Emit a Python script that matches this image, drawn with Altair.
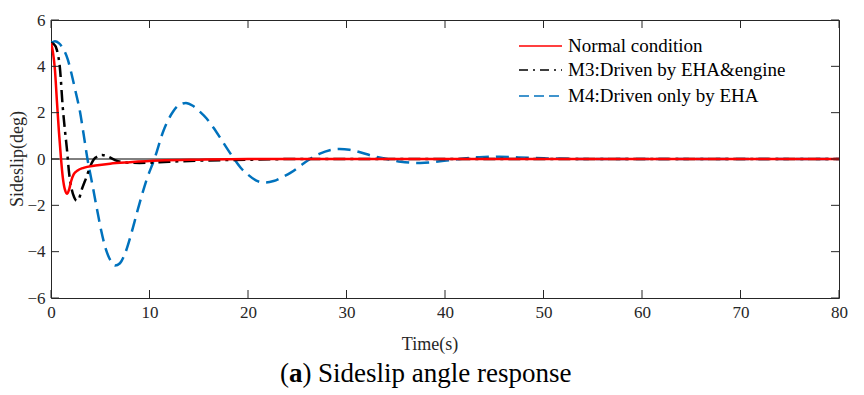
import altair as alt
import pandas as pd

# ---------------- data ----------------
t_normal = [0, 0.2, 0.4, 0.6, 0.8, 1.0, 1.2, 1.4, 1.65, 1.85, 2.05, 2.3, 2.7, 3.3, 4.5, 6, 8, 11, 15, 20, 80]
v_normal = [5, 4.6, 3.85, 2.5, 1.2, 0.1, -0.8, -1.3, -1.5, -1.3, -0.95, -0.66, -0.5, -0.38, -0.28, -0.2, -0.14, -0.07, -0.03, 0, 0]

t_m3 = [0, 0.3, 0.6, 0.9, 1.2, 1.4, 1.6, 1.85, 2.1, 2.35, 2.6, 2.85, 3.1, 3.6, 4.0, 4.5, 5.2, 5.8, 6.5, 7.5, 9, 11, 13, 16, 20, 25, 80]
v_m3 = [5, 4.95, 4.7, 3.95, 2.2, 1.3, 0.5, -0.65, -1.3, -1.65, -1.8, -1.7, -1.35, -0.78, -0.3, 0.05, 0.17, 0.1, -0.05, -0.15, -0.17, -0.14, -0.1, -0.06, -0.03, 0, 0]

t_m4 = [0, 0.4, 0.8, 1.25, 1.7, 2.1, 2.5, 2.94, 3.3, 3.7, 4.2, 4.64, 5.1, 5.5, 6.0, 6.5, 7.0, 7.5, 8.1, 8.7, 9.2, 9.7,
        10.5, 11.4, 12.4, 13.0, 13.7, 14.4, 15.1, 15.8, 16.5, 17.2, 17.8, 18.6, 19.3, 19.9, 20.8, 21.7, 22.6, 23.5,
        24.3, 25.3, 26.3, 27.3, 28.3, 29.3, 30.3, 31.3, 32.5, 34.1, 35.5, 37.5, 39.5, 41.5, 43.5, 45.5, 47.5, 50, 55, 80]
v_m4 = [5.0, 5.08, 5.0, 4.75, 4.3, 3.65, 2.9, 2.05, 1.1, 0, -1.1, -2.1, -3.1, -3.8, -4.35, -4.6, -4.5, -4.1, -3.3, -2.36, -1.6, -0.9,
        0, 1.2, 2.05, 2.33, 2.42, 2.3, 2.05, 1.75, 1.35, 0.9, 0.5, 0, -0.4, -0.64, -0.92, -1.02, -0.95, -0.78,
        -0.6, -0.3, 0, 0.23, 0.38, 0.43, 0.4, 0.3, 0.15, 0, -0.12, -0.17, -0.1, 0, 0.08, 0.1, 0.07, 0.03, 0, 0]

x_ticks = [0, 10, 20, 30, 40, 50, 60, 70, 80]
y_ticks = [-6, -4, -2, 0, 2, 4, 6]

series_names = ["Normal condition", "M3:Driven by EHA&engine", "M4:Driven only by EHA"]
series_colors = ["#ff0000", "#000000", "#0072bd"]

# ---------------- styling ----------------
FONT = "'Liberation Serif', 'Times New Roman', Times, serif"
W, H = 788, 278
TICK = 8
AX = "#262626"

x_scale = alt.Scale(domain=[0, 80], nice=False, zero=False)
y_scale = alt.Scale(domain=[-6, 6], nice=False, zero=False)

x_axis = alt.Axis(values=x_ticks, title="", labelFlush=False, labelOverlap=False, format="d")
y_axis = alt.Axis(values=y_ticks, title="", labelFlush=False, labelOverlap=False, format="d")


def X():
    return alt.X("t:Q", scale=x_scale, axis=x_axis)


def Y():
    return alt.Y("v:Q", scale=y_scale, axis=y_axis)


def line(t, v, color, dash=None, width=2.5):
    df = pd.DataFrame({"t": t, "v": v})
    kw = dict(color=color, strokeWidth=width, interpolate="monotone", clip=True)
    if dash:
        kw["strokeDash"] = dash
    return alt.Chart(df).mark_line(**kw).encode(x=X(), y=Y())


zero_line = alt.Chart(pd.DataFrame({"v": [0]})).mark_rule(color="#000000", strokeWidth=1).encode(y=Y())

xt = pd.DataFrame({"t": x_ticks})
yt = pd.DataFrame({"v": y_ticks})

xt_bottom = alt.Chart(xt).mark_rule(color=AX, strokeWidth=1).encode(
    x=X(), y=alt.value(H), y2=alt.value(H - TICK))
xt_top = alt.Chart(xt).mark_rule(color=AX, strokeWidth=1).encode(
    x=X(), y=alt.value(0), y2=alt.value(TICK))
yt_left = alt.Chart(yt).mark_rule(color=AX, strokeWidth=1).encode(
    y=Y(), x=alt.value(0), x2=alt.value(TICK))
yt_right = alt.Chart(yt).mark_rule(color=AX, strokeWidth=1).encode(
    y=Y(), x=alt.value(W - TICK), x2=alt.value(W))

one = pd.DataFrame({"a": [0]})

# legend (inside top-right, no border)
legend_layers = []
leg_dash = [None, [9, 5, 2, 5], [10, 5]]
leg_y = [26, 50, 76]
for name, col, dash, yy in zip(series_names, series_colors, leg_dash, leg_y):
    kw = dict(color=col, strokeWidth=1.5)
    if dash:
        kw["strokeDash"] = dash
    legend_layers.append(
        alt.Chart(one).mark_rule(**kw).encode(x=alt.value(468), x2=alt.value(511), y=alt.value(yy))
    )
    legend_layers.append(
        alt.Chart(one).mark_text(font=FONT, fontSize=19, color="#000000", align="left", baseline="middle").encode(
            x=alt.value(517), y=alt.value(yy), text=alt.value(name))
    )

# axis titles and caption as text
x_title = alt.Chart(one).mark_text(font=FONT, fontSize=18, color=AX, align="center", baseline="middle").encode(
    x=alt.value(379), y=alt.value(325), text=alt.value("Time(s)"))
y_title = alt.Chart(one).mark_text(font=FONT, fontSize=18, color=AX, align="center", baseline="middle", angle=270).encode(
    x=alt.value(-33), y=alt.value(139), text=alt.value("Sideslip(deg)"))

CAP = 27
cap_y = 354
cap_x0 = 229
cap1 = alt.Chart(one).mark_text(font=FONT, fontSize=CAP, color="#000000", align="left", baseline="middle").encode(
    x=alt.value(cap_x0), y=alt.value(cap_y), text=alt.value("("))
cap2 = alt.Chart(one).mark_text(font=FONT, fontSize=CAP, fontWeight="bold", color="#000000", align="left", baseline="middle").encode(
    x=alt.value(cap_x0 + 9), y=alt.value(cap_y), text=alt.value("a"))
cap3 = alt.Chart(one).mark_text(font=FONT, fontSize=CAP, color="#000000", align="left", baseline="middle").encode(
    x=alt.value(cap_x0 + 22.5), y=alt.value(cap_y), text=alt.value(")"))
cap4 = alt.Chart(one).mark_text(font=FONT, fontSize=CAP, color="#000000", align="left", baseline="middle").encode(
    x=alt.value(cap_x0 + 38), y=alt.value(cap_y), text=alt.value("Sideslip angle response"))

chart = alt.layer(
    zero_line,
    line(t_m4, v_m4, series_colors[2], [13, 7]),
    line(t_m3, v_m3, series_colors[1], [12, 5, 3, 5]),
    line(t_normal, v_normal, series_colors[0]),
    xt_bottom, xt_top, yt_left, yt_right,
    *legend_layers,
    x_title, y_title, cap1, cap2, cap3, cap4,
).properties(
    width=W, height=H,
    autosize=alt.AutoSizeParams(type="none"),
    padding={"left": 43, "top": 12, "right": 10, "bottom": 90},
).configure_view(
    stroke=AX, strokeWidth=1
).configure_axis(
    domain=False, ticks=False, grid=False,
    labelFont=FONT, labelFontSize=17, labelColor=AX,
).configure_axisX(labelPadding=6).configure_axisY(labelPadding=6)

chart.save("out.html", embed_options={"renderer": "svg", "actions": False})
